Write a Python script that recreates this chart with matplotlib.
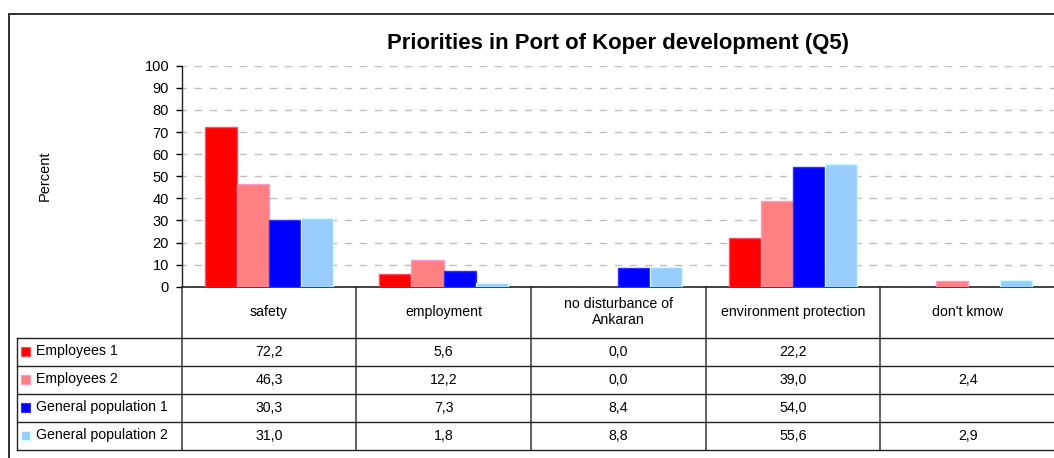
import numpy as np
import matplotlib
matplotlib.use("Agg")
import matplotlib.pyplot as plt
from matplotlib.transforms import blended_transform_factory
from matplotlib.patches import Rectangle

plt.rcParams['font.family'] = ['Liberation Sans', 'DejaVu Sans']

title = "Priorities in Port of Koper development (Q5)"
categories = ["safety", "employment", "no disturbance of\nAnkaran",
              "environment protection", "don't kmow"]
series_names = ["Employees 1", "Employees 2",
                "General population 1", "General population 2"]
employees_1 = [72.2, 5.6, 0.0, 22.2, np.nan]
employees_2 = [46.3, 12.2, 0.0, 39.0, 2.4]
general_pop_1 = [30.3, 7.3, 8.4, 54.0, np.nan]
general_pop_2 = [31.0, 1.8, 8.8, 55.6, 2.9]
series_values = [employees_1, employees_2, general_pop_1, general_pop_2]
yticks = list(range(0, 101, 10))

face_colors = ["#FF0000", "#FF8080", "#0000FF", "#99CCFF"]
edge_colors = ["#FF5060", "#FF99CC", "#3030FF", "#CCFFFF"]

W, H = 1054, 458
fig = plt.figure(figsize=(W / 100, H / 100), dpi=100)

# plot area in pixels
px_left, px_right = 181.5, 1055.0
px_top, px_bottom = 65.7, 286.7
ax = fig.add_axes([px_left / W, 1 - px_bottom / H,
                   (px_right - px_left) / W, (px_bottom - px_top) / H])

n_cat = len(categories)
x = np.arange(n_cat) + 0.5
bar_w = 0.1836
for i, vals in enumerate(series_values):
    vals = np.array(vals, dtype=float)
    keep = ~np.isnan(vals) & (vals > 0)
    ax.bar(x[keep] + (i - 1.5) * bar_w, vals[keep], width=bar_w,
           color=face_colors[i], edgecolor=edge_colors[i], linewidth=1.0,
           zorder=3)

ax.set_xlim(0, n_cat)
ax.set_ylim(0, 100)
ax.set_yticks(yticks)
ax.set_xticks([])
ax.tick_params(axis='y', direction='out', length=4, width=1, pad=5,
               labelsize=10.5, colors='black')
ax.yaxis.grid(True, color='#C0C0C0', linestyle=(2, (5.4, 5.4)), linewidth=1)
ax.set_axisbelow(True)
for s in ['top', 'right']:
    ax.spines[s].set_visible(False)
ax.spines['left'].set_color('#222222')
ax.spines['bottom'].set_color('#222222')
ax.spines['left'].set_linewidth(1.0)
ax.spines['bottom'].set_linewidth(1.2)
ax.set_ylabel("Percent", fontsize=10.5)
ax.yaxis.set_label_coords((52 - px_left) / (px_right - px_left), 0.5)

fig.text((px_left + px_right) / 2 / W, 1 - 44 / H, title,
         ha='center', va='center', fontsize=15.9, fontweight='bold')

# data table under the plot
tr = blended_transform_factory(ax.transData, fig.transFigure)
def fy(py):
    return 1 - py / H

cat_w_px = (px_right - px_left) / n_cat
x_leg = (17 - px_left) / cat_w_px
header_bottom = 337.5
row_h = 28.0
table_bottom = header_bottom + row_h * len(series_names)

line_kw = dict(transform=tr, clip_on=False, color='#222222', linewidth=1.0)
# vertical separators
for k in range(n_cat + 1):
    ax.plot([k, k], [fy(px_bottom), fy(table_bottom)],
            **dict(line_kw, color='#555555', linewidth=1.3))
ax.plot([x_leg, x_leg], [fy(header_bottom), fy(table_bottom)], **line_kw)
# horizontal lines
for r in range(len(series_names) + 1):
    yy = fy(header_bottom + r * row_h)
    ax.plot([x_leg, n_cat + 0.05], [yy, yy], **line_kw)

for k, cat in enumerate(categories):
    ax.text(x[k], fy((px_bottom + header_bottom) / 2), cat, transform=tr,
            ha='center', va='center', fontsize=10.2, linespacing=1.25)

sq_px = 9
for r, name in enumerate(series_names):
    yc = header_bottom + (r + 0.5) * row_h
    fig.patches.append(Rectangle((21 / W, fy(yc + sq_px / 2)), sq_px / W, sq_px / H,
                                 transform=fig.transFigure,
                                 facecolor=face_colors[r],
                                 edgecolor=edge_colors[r], linewidth=0.8))
    fig.text(36 / W, fy(yc), name, ha='left', va='center', fontsize=10.2)
    for k, v in enumerate(series_values[r]):
        if np.isnan(v):
            continue
        ax.text(x[k], fy(yc), f"{v:.1f}".replace('.', ','), transform=tr,
                ha='center', va='center', fontsize=10.2)

# outer chart frame (runs past the right and bottom edge of the image)
fig.patches.append(Rectangle((9 / W, fy(470)), (1070 - 9) / W, (470 - 14) / H,
                             transform=fig.transFigure, fill=False,
                             edgecolor='#202020', linewidth=1.3))

fig.savefig("out.png", dpi=100)
